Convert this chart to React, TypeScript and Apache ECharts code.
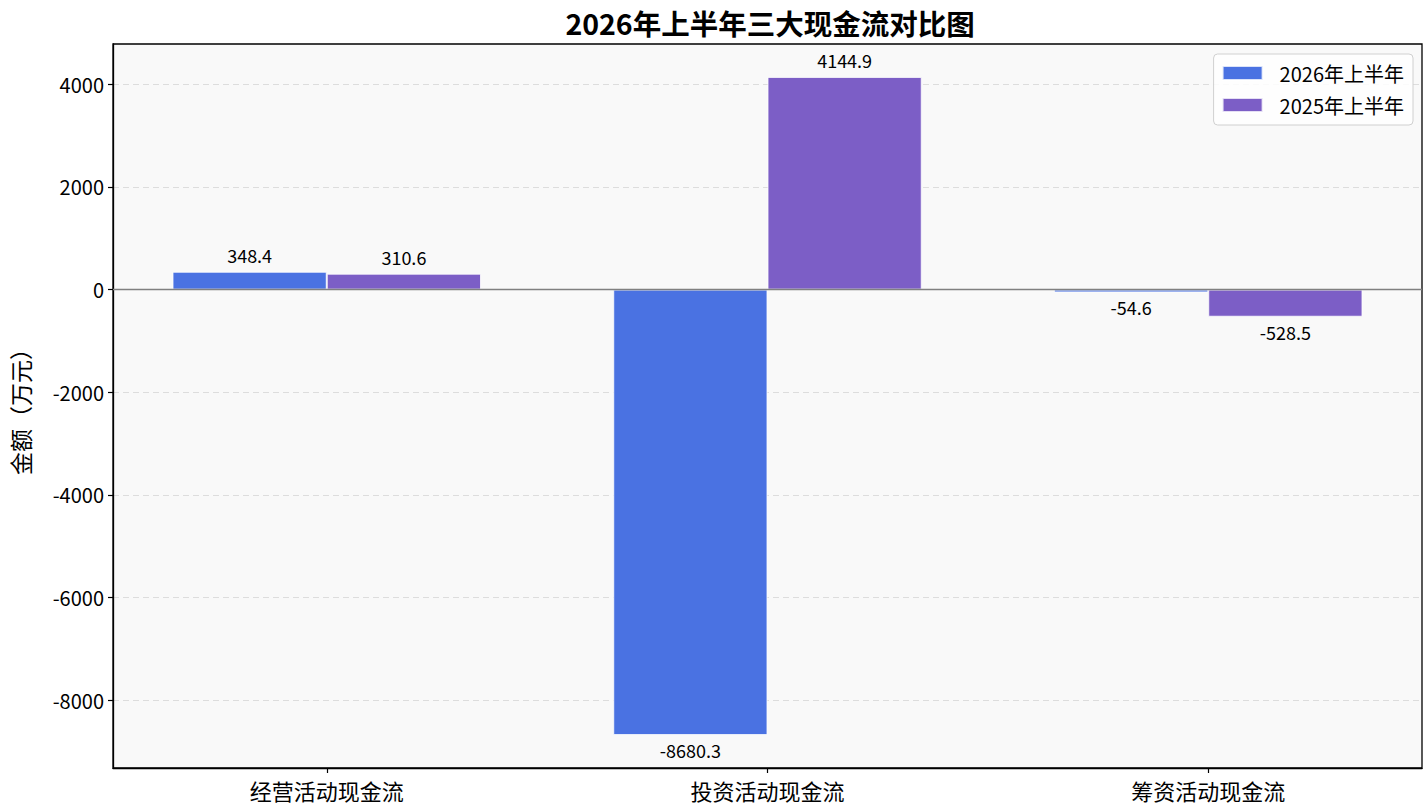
import React, { useEffect, useRef } from "react";
import * as echarts from "echarts";

const categories = ["经营活动现金流", "投资活动现金流", "筹资活动现金流"];
const series2026 = [348.4, -8680.3, -54.6];
const series2025 = [310.6, 4144.9, -528.5];
const seriesNames = ["2026年上半年", "2025年上半年"];
const yTicks = [-8000, -6000, -4000, -2000, 0, 2000, 4000];

const FONT = '"Noto Sans CJK SC", "Noto Sans", sans-serif';
const BLUE = "#4a72e2";
const PURPLE = "#7c5ec6";

export default function App() {
  const ref = useRef<HTMLDivElement>(null);
  useEffect(() => {
    if (!ref.current) return;
    const chart = echarts.init(ref.current, null, { renderer: "svg" });
    const all = [...series2026, ...series2025];
    const lo = Math.min(0, ...all);
    const hi = Math.max(0, ...all);
    const pad = (hi - lo) * 0.05;
    const xPad = 0.135;
    const xMin = -0.35 - xPad;
    const xMax = categories.length - 1 + 0.35 + xPad;

    const mkData = (vals: number[]) =>
      vals.map((v, i) => ({
        value: [i, v],
        label: {
          position: v >= 0 ? "top" : "bottom",
          distance: v >= 0 ? 8 : 6,
        },
      }));

    const labelCommon = {
      show: true,
      fontSize: 18,
      fontFamily: FONT,
      color: "#000",
      formatter: (p: any) => Number(p.value[1]).toFixed(1),
    };

    const axisLineStyle = { show: true, onZero: false, lineStyle: { color: "#000", width: 1.3 } };

    chart.setOption({
      animation: false,
      backgroundColor: "#fff",
      title: {
        text: "2026年上半年三大现金流对比图",
        left: 765,
        top: 3,
        textAlign: "center",
        textStyle: { fontSize: 28.5, fontWeight: "bold", fontFamily: FONT, color: "#000" },
      },
      legend: {
        orient: "vertical",
        right: 14,
        top: 54,
        padding: [8, 9, 9, 8],
        backgroundColor: "rgba(255,255,255,0.85)",
        borderColor: "#d0d0d0",
        borderWidth: 1,
        borderRadius: 4,
        itemWidth: 40,
        itemHeight: 14,
        itemGap: 10,
        icon: "rect",
        textStyle: { fontSize: 20, fontFamily: FONT, color: "#000", lineHeight: 22, padding: [0, 0, 0, 12] },
        data: seriesNames,
      },
      grid: {
        left: 112,
        right: 5,
        top: 44,
        bottom: 39,
        show: true,
        backgroundColor: "#f9f9f9",
        borderColor: "#000",
        borderWidth: 1.3,
      },
      xAxis: {
        type: "value",
        min: xMin,
        max: xMax,
        position: "bottom",
        axisLine: axisLineStyle,
        splitLine: { show: false },
        axisTick: {
          show: true,
          inside: false,
          length: 5,
          customValues: categories.map((_, i) => i),
          lineStyle: { color: "#000", width: 1.2 },
        },
        axisLabel: {
          customValues: categories.map((_, i) => i),
          formatter: (v: number) => categories[Math.round(v)] ?? "",
          fontSize: 22,
          fontFamily: FONT,
          color: "#000",
          margin: 11,
        },
      },
      yAxis: {
        type: "value",
        min: lo - pad,
        max: hi + pad,
        position: "left",
        name: "金额（万元）",
        nameLocation: "middle",
        nameGap: 82,
        nameRotate: 90,
        nameTextStyle: { fontSize: 23, fontFamily: FONT, color: "#000" },
        axisLine: axisLineStyle,
        axisTick: {
          show: true,
          inside: false,
          length: 5,
          customValues: yTicks,
          lineStyle: { color: "#000", width: 1.2 },
        },
        axisLabel: {
          customValues: yTicks,
          formatter: (v: number) => String(v),
          fontSize: 20,
          fontFamily: FONT,
          color: "#000",
          margin: 9,
        },
        splitLine: { show: true, lineStyle: { color: "#dddddd", type: [6, 4], width: 1 } },
      },
      series: [
        {
          name: seriesNames[0],
          type: "bar",
          data: mkData(series2026),
          barWidth: "35%",
          barGap: "0%",
          itemStyle: { color: BLUE, borderColor: "rgba(255,255,255,0.8)", borderWidth: 1 },
          label: labelCommon,
          markLine: {
            silent: true,
            symbol: ["none", "none"],
            label: { show: false },
            lineStyle: { color: "#808080", width: 1.3, type: "solid" },
            data: [{ yAxis: 0 }],
            z: 5,
          },
        },
        {
          name: seriesNames[1],
          type: "bar",
          data: mkData(series2025),
          barWidth: "35%",
          barGap: "0%",
          itemStyle: { color: PURPLE, borderColor: "rgba(255,255,255,0.8)", borderWidth: 1 },
          label: labelCommon,
        },
      ],
    });
    return () => chart.dispose();
  }, []);
  return <div ref={ref} style={{ position: "absolute", left: 0, top: 0, width: 1427, height: 807 }} />;
}
